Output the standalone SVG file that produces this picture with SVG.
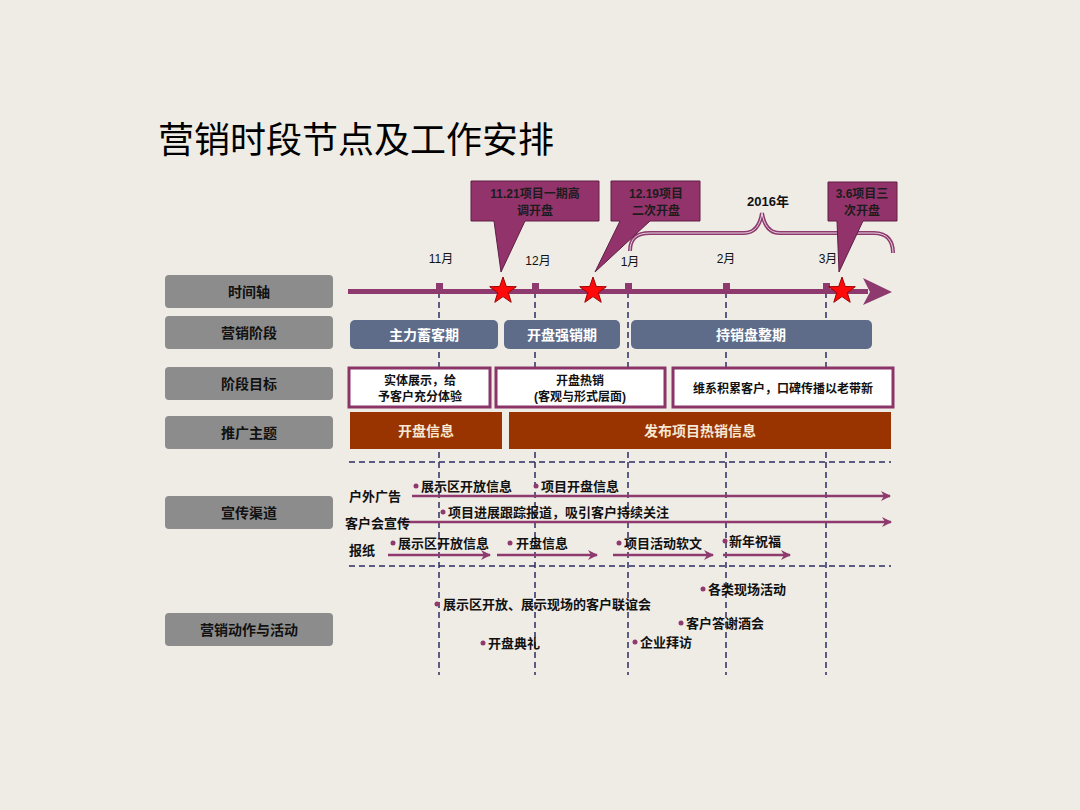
<svg xmlns="http://www.w3.org/2000/svg" width="1080" height="810" viewBox="0 0 1080 810">
<defs>
<style>
text{font-family:"Liberation Sans","Noto Sans CJK SC",sans-serif;}
.lbl rect{fill:#8c8c8c;}
.lbl text{font-size:14px;font-weight:bold;fill:#111;text-anchor:middle;}
.phase rect{fill:#5e6c8a;}
.phase text{font-size:14px;font-weight:bold;fill:#fff;text-anchor:middle;}
.goal rect{fill:#fff;stroke:#8a3468;stroke-width:3;}
.goal text{font-size:12px;font-weight:bold;fill:#111;text-anchor:middle;}
.theme rect{fill:#993300;}
.theme text{font-size:14px;font-weight:bold;fill:#f6e8d2;text-anchor:middle;}
.vd{stroke:#2c2c62;stroke-width:1.5;stroke-dasharray:6 4;fill:none;}
.ch{stroke:#8e3a6e;stroke-width:2.5;fill:none;marker-end:url(#ah);}
.t{font-size:13px;font-weight:bold;fill:#111;}
.dot{fill:#8e3a6e;}
.co path{fill:#93336b;stroke:#5e1f45;stroke-width:1;}
.co text{font-size:12px;font-weight:bold;fill:#1c1c1c;text-anchor:middle;}
.mon{font-size:12px;fill:#111;text-anchor:middle;}
.star{fill:#ff0a0a;stroke:#a00000;stroke-width:1;}
</style>
<marker id="ah" viewBox="0 0 10 10" refX="9" refY="5" markerWidth="4" markerHeight="4" orient="auto" markerUnits="strokeWidth">
<path d="M0,0 L10,5 L0,10 L3,5 Z" fill="#8e3a6e"/>
</marker>
</defs>
<rect width="1080" height="810" fill="#efece6"/>
<text x="158" y="153" font-size="36" fill="#000">营销时段节点及工作安排</text>

<g id="labels">
<g id="lbl-timeline" class="lbl"><rect x="165" y="275" width="168" height="33" rx="4"/><text x="249" y="297">时间轴</text></g>
<g id="lbl-phase" class="lbl"><rect x="165" y="316" width="168" height="33" rx="4"/><text x="249" y="338">营销阶段</text></g>
<g id="lbl-goal" class="lbl"><rect x="165" y="367" width="168" height="33" rx="4"/><text x="249" y="389">阶段目标</text></g>
<g id="lbl-theme" class="lbl"><rect x="165" y="416" width="168" height="33" rx="4"/><text x="249" y="438">推广主题</text></g>
<g id="lbl-channel" class="lbl"><rect x="165" y="496" width="168" height="33" rx="4"/><text x="249" y="518">宣传渠道</text></g>
<g id="lbl-activity" class="lbl"><rect x="165" y="613" width="168" height="33" rx="4"/><text x="249" y="635">营销动作与活动</text></g>
</g>

<g id="connectors">
<path class="vd" d="M439,292 V675 M535,292 V675 M628,292 V675 M726,292 V675 M826,292 V675"/>
<path class="vd" d="M349,462 H891 M349,566 H891"/>
<line x1="348" y1="291.5" x2="868" y2="291.5" stroke="#8e3a6e" stroke-width="5"/>
<path d="M863,278 L892,292 L863,305 L870,292 Z" fill="#8e3a6e"/>
<g fill="#8e3a6e">
<rect x="436" y="283" width="7" height="9"/><rect x="532" y="283" width="7" height="9"/><rect x="625" y="283" width="7" height="9"/><rect x="723" y="283" width="7" height="9"/><rect x="823" y="283" width="7" height="9"/>
</g>
<line class="ch" x1="412" y1="496" x2="890" y2="496"/>
<line class="ch" x1="400" y1="522" x2="891" y2="522"/>
<line class="ch" x1="388" y1="555" x2="490" y2="555"/>
<line class="ch" x1="497" y1="555" x2="597" y2="555"/>
<line class="ch" x1="613" y1="555" x2="713" y2="555"/>
<line class="ch" x1="723" y1="555" x2="790" y2="555"/>
<path d="M630,251 C630,239 636,233 650,233 L744,233 C755,233 760,225 762,213 C764,225 769,233 780,233 L874,233 C888,233 893,242 893,253" fill="none" stroke="#8e3a6e" stroke-width="4"/>
<path d="M630,251 C630,239 636,233 650,233 L744,233 C755,233 760,225 762,213 C764,225 769,233 780,233 L874,233 C888,233 893,242 893,253" fill="none" stroke="#e8d4e0" stroke-width="1"/>
</g>

<g id="months">
<text class="mon" x="441" y="263">11月</text>
<text class="mon" x="538" y="265">12月</text>
<text class="mon" x="630" y="266">1月</text>
<text class="mon" x="726" y="263">2月</text>
<text class="mon" x="828" y="263">3月</text>
<text x="768" y="206" font-size="13" font-weight="bold" fill="#111" text-anchor="middle">2016年</text>
</g>

<g id="callout-1" class="co"><path d="M471,181 H599 V221 H525 L501,272 L494,221 H471 Z"/><text x="535" y="198">11.21项目一期高</text><text x="535" y="215">调开盘</text></g>
<g id="callout-2" class="co"><path d="M611,181 H700 V221 H650 L595,272 L620,221 H611 Z"/><text x="656" y="198">12.19项目</text><text x="656" y="215">二次开盘</text></g>
<g id="callout-3" class="co"><path d="M828,182 H897 V221 H863 L839,272 L837,221 H828 Z"/><text x="862" y="198">3.6项目三</text><text x="862" y="215">次开盘</text></g>

<g id="stars">
<polygon class="star" transform="translate(503,291)" points="0,-14 3.3,-4.5 13.3,-4.3 5.3,1.7 8.2,11.3 0,5.6 -8.2,11.3 -5.3,1.7 -13.3,-4.3 -3.3,-4.5"/>
<polygon class="star" transform="translate(593,291)" points="0,-14 3.3,-4.5 13.3,-4.3 5.3,1.7 8.2,11.3 0,5.6 -8.2,11.3 -5.3,1.7 -13.3,-4.3 -3.3,-4.5"/>
<polygon class="star" transform="translate(842,291)" points="0,-14 3.3,-4.5 13.3,-4.3 5.3,1.7 8.2,11.3 0,5.6 -8.2,11.3 -5.3,1.7 -13.3,-4.3 -3.3,-4.5"/>
</g>

<g id="phase-1" class="phase"><rect x="350" y="320" width="148" height="29" rx="5"/><text x="424" y="340">主力蓄客期</text></g>
<g id="phase-2" class="phase"><rect x="504" y="320" width="116" height="29" rx="5"/><text x="562" y="340">开盘强销期</text></g>
<g id="phase-3" class="phase"><rect x="631" y="320" width="241" height="29" rx="5"/><text x="751" y="340">持销盘整期</text></g>

<g id="goal-1" class="goal"><rect x="349" y="368" width="141" height="39"/><text x="420" y="385">实体展示，给</text><text x="420" y="401">予客户充分体验</text></g>
<g id="goal-2" class="goal"><rect x="496" y="368" width="169" height="39"/><text x="580" y="385">开盘热销</text><text x="580" y="401">(客观与形式层面)</text></g>
<g id="goal-3" class="goal"><rect x="673" y="368" width="220" height="39"/><text x="783" y="393">维系积累客户，口碑传播以老带新</text></g>

<g id="theme-1" class="theme"><rect x="350" y="412" width="152" height="37"/><text x="426" y="436">开盘信息</text></g>
<g id="theme-2" class="theme"><rect x="509" y="412" width="382" height="37"/><text x="700" y="436">发布项目热销信息</text></g>

<g id="channels">
<text class="t" x="349" y="501">户外广告</text>
<text class="t" x="345" y="528">客户会宣传</text>
<text class="t" x="349" y="555">报纸</text>
<circle class="dot" cx="416" cy="486" r="2.5"/><text class="t" x="421" y="491">展示区开放信息</text>
<circle class="dot" cx="536" cy="486" r="2.5"/><text class="t" x="541" y="491">项目开盘信息</text>
<circle class="dot" cx="443" cy="512" r="2.5"/><text class="t" x="448" y="517">项目进展跟踪报道，吸引客户持续关注</text>
<circle class="dot" cx="393" cy="543" r="2.5"/><text class="t" x="398" y="548">展示区开放信息</text>
<circle class="dot" cx="510" cy="543" r="2.5"/><text class="t" x="516" y="548">开盘信息</text>
<circle class="dot" cx="619" cy="543" r="2.5"/><text class="t" x="624" y="548">项目活动软文</text>
<circle class="dot" cx="725" cy="541" r="2.5"/><text class="t" x="729" y="546">新年祝福</text>
</g>

<g id="activities">
<circle class="dot" cx="437" cy="604" r="2.5"/><text class="t" x="443" y="609">展示区开放、展示现场的客户联谊会</text>
<circle class="dot" cx="483" cy="643" r="2.5"/><text class="t" x="488" y="648">开盘典礼</text>
<circle class="dot" cx="703" cy="589" r="2.5"/><text class="t" x="708" y="594">各类现场活动</text>
<circle class="dot" cx="681" cy="623" r="2.5"/><text class="t" x="686" y="628">客户答谢酒会</text>
<circle class="dot" cx="635" cy="642" r="2.5"/><text class="t" x="640" y="647">企业拜访</text>
</g>
</svg>
